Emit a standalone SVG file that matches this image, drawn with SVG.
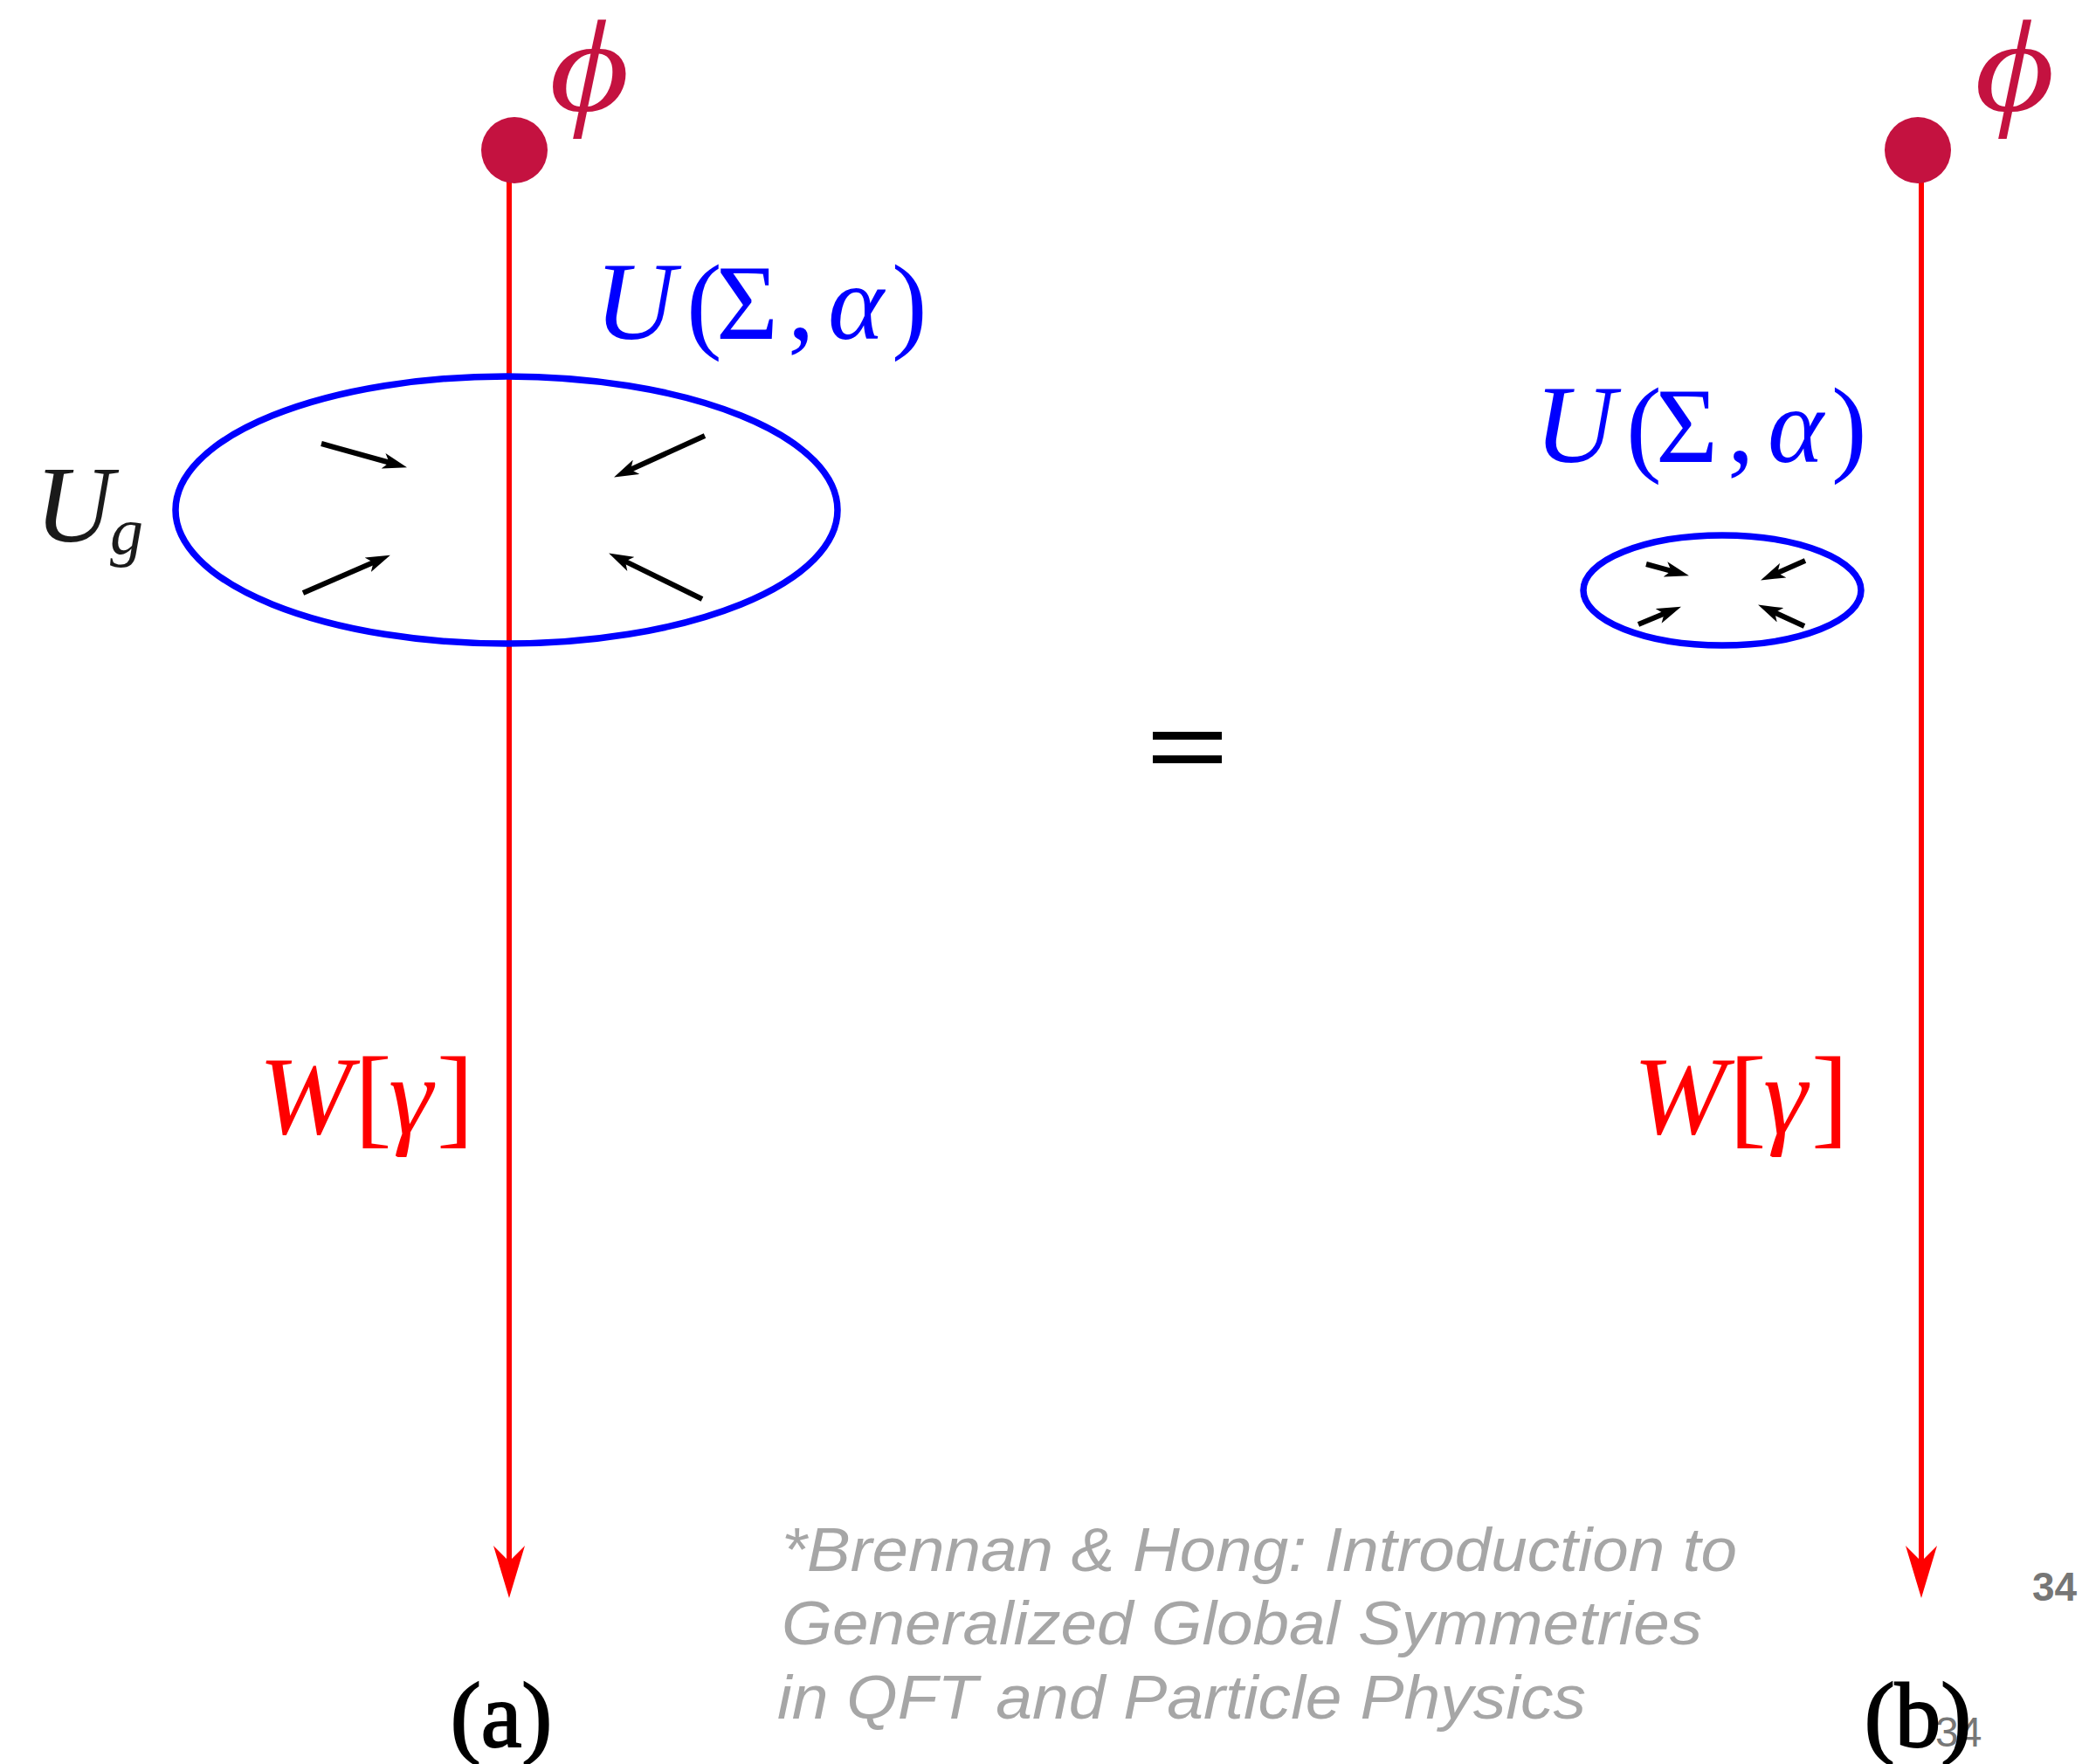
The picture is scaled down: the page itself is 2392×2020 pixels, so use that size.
<svg xmlns="http://www.w3.org/2000/svg" width="2392" height="2020" viewBox="0 0 2392 2020">
<style>
.serif{font-family:"Liberation Serif","Times New Roman",serif}
.it{font-style:italic}
.blue{fill:#0000FF}
.red{fill:#FF0000}
.phi{fill:#C41240}
.wire{stroke:#FF0000;stroke-width:6;fill:none}
.loop{stroke:#0000FF;stroke-width:7.5;fill:none}
.flow{stroke:#000;stroke-width:6;fill:none;marker-end:url(#bk)}
.cite{font-family:"Liberation Sans",Arial,sans-serif;font-style:italic;fill:#A6A6A6;font-size:71px}
</style>
<defs>
<marker id="rd" markerUnits="userSpaceOnUse" viewBox="0 0 60 36" refX="22" refY="18" markerWidth="60" markerHeight="36" orient="auto">
<path d="M0,0 L60,18 L0,36 L18,18 z" fill="#FF0000"/>
</marker>
<marker id="bk" markerUnits="userSpaceOnUse" viewBox="0 0 28 18" refX="12" refY="9" markerWidth="28" markerHeight="18" orient="auto">
<path d="M0,0 L28,9 L0,18 L7,9 z" fill="#000"/>
</marker>
</defs>
<rect width="2392" height="2020" fill="#fff"/>
<g id="connectors">
<path class="wire" d="M583,172 L583,1792" marker-end="url(#rd)"/>
<path class="wire" d="M2200,172 L2200,1792" marker-end="url(#rd)"/>
<path class="flow" d="M368,508 L450.6,531"/>
<path class="flow" d="M807,499 L717.6,539.8"/>
<path class="flow" d="M347,679 L432.2,642"/>
<path class="flow" d="M804,686 L711.5,640.6"/>
<path class="flow" d="M1885,646 L1918.5,655.1"/>
<path class="flow" d="M2067,642 L2030.7,658"/>
<path class="flow" d="M1876,715 L1910.2,700.8"/>
<path class="flow" d="M2066,717 L2027.6,699.3"/>
</g>
<g id="loop-a"><ellipse class="loop" cx="580" cy="584" rx="379" ry="153"/></g>
<g id="loop-b"><ellipse class="loop" cx="1972" cy="676" rx="159" ry="63"/></g>
<g id="phi-a">
<circle cx="589" cy="172" r="38" class="phi"/>
<text class="serif it phi" transform="translate(635,0) scale(1.18,1)" x="-5" y="127" font-size="150">ϕ</text>
</g>
<g id="phi-b">
<circle cx="2196" cy="172" r="38" class="phi"/>
<text class="serif it phi" transform="translate(2267,0) scale(1.18,1)" x="-5" y="127" font-size="150">ϕ</text>
</g>
<g id="label-U-a">
<text class="serif blue" y="388" font-size="122"><tspan class="it" x="681" font-size="128">U</tspan><tspan x="786">(</tspan><tspan x="820">Σ</tspan><tspan x="902">,</tspan><tspan class="it" x="948">α</tspan><tspan x="1021">)</tspan></text>
</g>
<g id="label-U-b">
<text class="serif blue" y="529" font-size="122"><tspan class="it" x="1757" font-size="128">U</tspan><tspan x="1862">(</tspan><tspan x="1896">Σ</tspan><tspan x="1978">,</tspan><tspan class="it" x="2024">α</tspan><tspan x="2097">)</tspan></text>
</g>
<g id="label-Ug">
<text class="serif it" fill="#1a1a1a" x="40" y="620" font-size="124">U</text>
<text class="serif it" fill="#1a1a1a" x="126" y="634" font-size="76">g</text>
</g>
<g id="label-W-a">
<text class="serif red" y="1298" font-size="128"><tspan class="it" x="296">W</tspan><tspan x="406">[</tspan><tspan class="it" x="445">γ</tspan><tspan x="500">]</tspan></text>
</g>
<g id="label-W-b">
<text class="serif red" y="1298" font-size="128"><tspan class="it" x="1870">W</tspan><tspan x="1980">[</tspan><tspan class="it" x="2019">γ</tspan><tspan x="2074">]</tspan></text>
</g>
<g id="equals">
<rect x="1320" y="838" width="79" height="9" fill="#000"/>
<rect x="1320" y="865" width="79" height="9" fill="#000"/>
</g>
<g id="page-num">
<text x="2327" y="1833" font-family="Liberation Sans,Arial,sans-serif" font-weight="bold" font-size="46" fill="#767676">34</text>
<text x="2216" y="2000" font-family="Liberation Sans,Arial,sans-serif" font-size="48" fill="#777">34</text>
</g>
<g id="caption-a"><text class="serif" x="574" y="2000" font-size="105" text-anchor="middle" stroke="#000" stroke-width="2">(a)</text></g>
<g id="caption-b"><text class="serif" x="2196" y="2000" font-size="105" text-anchor="middle" stroke="#000" stroke-width="2">(b)</text></g>
<g id="citation">
<text class="cite" x="895" y="1799" textLength="1094" lengthAdjust="spacingAndGlyphs">*Brennan &amp; Hong: Introduction to</text>
<text class="cite" x="895" y="1883" textLength="1054" lengthAdjust="spacingAndGlyphs">Generalized Global Symmetries</text>
<text class="cite" x="890" y="1968" textLength="926" lengthAdjust="spacingAndGlyphs">in QFT and Particle Physics</text>
</g>
</svg>
